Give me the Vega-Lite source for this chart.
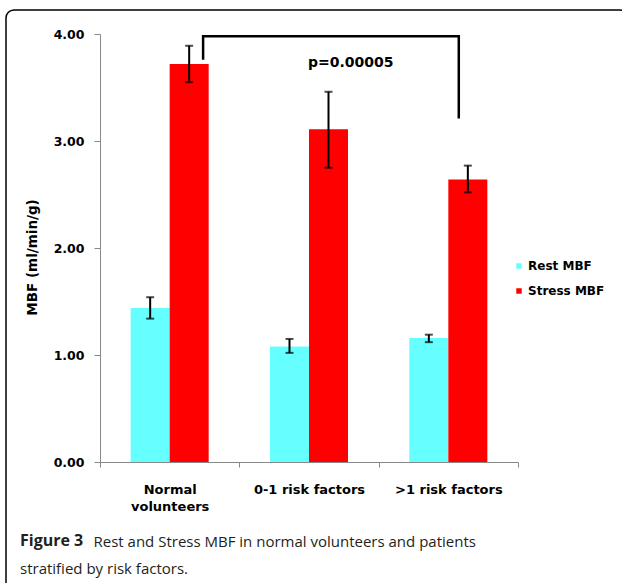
{
  "$schema": "https://vega.github.io/schema/vega-lite/v6.json",
  "width": 622,
  "height": 582,
  "autosize": "none",
  "padding": {"left": 6, "top": 10, "right": -6, "bottom": -9},
  "background": "white",
  "config": {
    "view": {"stroke": "#000", "strokeWidth": 1.5, "cornerRadius": 8},
    "font": "DejaVu Sans"
  },
  "title": {
    "text": "Figure 3",
    "subtitle": "stratified by risk factors.",
    "orient": "bottom",
    "anchor": "start",
    "frame": "group",
    "dx": 14,
    "dy": -59,
    "offset": 0,
    "font": "Open Sans",
    "fontSize": 16,
    "fontWeight": "bold",
    "color": "#231F20",
    "subtitleFont": "Open Sans",
    "subtitleFontSize": 15,
    "subtitleFontWeight": "normal",
    "subtitleColor": "#231F20",
    "subtitlePadding": 13
  },
  "datasets": {
    "bars": [
      {"group": "Normal volunteers", "type": "Rest MBF", "value": 1.44, "lo": 1.34, "hi": 1.54},
      {"group": "Normal volunteers", "type": "Stress MBF", "value": 3.72, "lo": 3.55, "hi": 3.89},
      {"group": "0-1 risk factors", "type": "Rest MBF", "value": 1.08, "lo": 1.02, "hi": 1.15},
      {"group": "0-1 risk factors", "type": "Stress MBF", "value": 3.11, "lo": 2.75, "hi": 3.46},
      {"group": ">1 risk factors", "type": "Rest MBF", "value": 1.16, "lo": 1.12, "hi": 1.19},
      {"group": ">1 risk factors", "type": "Stress MBF", "value": 2.64, "lo": 2.52, "hi": 2.77}
    ],
    "bracket": [
      {"step": 1, "bx": 0.74, "by": 3.76},
      {"step": 2, "bx": 0.74, "by": 3.98},
      {"step": 3, "bx": 2.575, "by": 3.98},
      {"step": 4, "bx": 2.575, "by": 3.21}
    ],
    "pvalue": [
      {"label": "p=0.00005", "bx": 1.8, "by": 3.73}
    ]
  },
  "resolve": {"scale": {"x": "independent"}, "axis": {"x": "independent"}},
  "layer": [
    {
      "data": {"name": "bars"},
      "layer": [
        {
          "mark": {"type": "bar"},
          "encoding": {
            "x": {
              "field": "group",
              "type": "nominal",
              "sort": null,
              "scale": {"domain": ["Normal volunteers", "0-1 risk factors", ">1 risk factors"], "range": [94, 512], "paddingInner": 0, "paddingOuter": 0},
              "axis": {
                "title": "Rest and Stress MBF in normal volunteers and patients",
                "titleX": 87,
                "titleY": 84,
                "titleAlign": "left",
                "titleAnchor": "start",
                "titleBaseline": "alphabetic",
                "titleFont": "Open Sans",
                "titleFontSize": 15,
                "titleFontWeight": "normal",
                "titleColor": "#231F20",
                "offset": -130,
                "labelAngle": 0,
                "labelFont": "DejaVu Sans",
                "labelFontSize": 13,
                "labelFontWeight": "bold",
                "labelColor": "#000",
                "labelPadding": 16,
                "labelLineHeight": 17,
                "labelBaseline": "top",
                "labelExpr": "datum.value == 'Normal volunteers' ? ['Normal', 'volunteers'] : datum.value",
                "tickBand": "extent",
                "tickSize": 5,
                "tickColor": "#888",
                "domainColor": "#888"
              }
            },
            "xOffset": {
              "field": "type",
              "type": "nominal",
              "scale": {"domain": ["Rest MBF", "Stress MBF"], "paddingInner": 0, "paddingOuter": 0.786}
            },
            "y": {
              "field": "value",
              "type": "quantitative",
              "scale": {"domain": [0, 4], "range": [452, 24], "nice": false, "zero": true},
              "axis": {
                "title": "MBF (ml/min/g)",
                "offset": -94,
                "values": [0, 1, 2, 3, 4],
                "format": ".2f",
                "grid": false,
                "tickSize": 6,
                "labelPadding": 10,
                "labelFont": "DejaVu Sans",
                "labelFontSize": 12.5,
                "labelFontWeight": "bold",
                "labelColor": "#000",
                "titleFont": "DejaVu Sans",
                "titleFontSize": 13.5,
                "titleFontWeight": "bold",
                "titleColor": "#000",
                "titleX": -68,
                "titleY": 247,
                "titleAngle": 270,
                "titleAlign": "center",
                "titleBaseline": "middle",
                "domainColor": "#888",
                "tickColor": "#888"
              }
            },
            "color": {
              "field": "type",
              "type": "nominal",
              "scale": {"domain": ["Rest MBF", "Stress MBF"], "range": ["#66FFFF", "#FF0000"]},
              "legend": {
                "orient": "none",
                "legendX": 507,
                "legendY": 250,
                "title": null,
                "symbolType": "square",
                "symbolSize": 30,
                "symbolStrokeWidth": 0,
                "labelFont": "DejaVu Sans",
                "labelFontSize": 12,
                "labelFontWeight": "bold",
                "labelColor": "#000",
                "rowPadding": 13,
                "labelOffset": 3
              }
            }
          }
        },
        {
          "mark": {"type": "rule", "color": "#000", "strokeWidth": 2},
          "encoding": {
            "x": {"field": "group", "type": "nominal", "sort": null},
            "xOffset": {"field": "type", "type": "nominal"},
            "y": {"field": "lo", "type": "quantitative", "title": "MBF (ml/min/g)"},
            "y2": {"field": "hi"}
          }
        },
        {
          "mark": {"type": "tick", "color": "#000", "thickness": 2, "size": 8},
          "encoding": {
            "x": {"field": "group", "type": "nominal", "sort": null},
            "xOffset": {"field": "type", "type": "nominal"},
            "y": {"field": "lo", "type": "quantitative", "title": "MBF (ml/min/g)"}
          }
        },
        {
          "mark": {"type": "tick", "color": "#000", "thickness": 2, "size": 8},
          "encoding": {
            "x": {"field": "group", "type": "nominal", "sort": null},
            "xOffset": {"field": "type", "type": "nominal"},
            "y": {"field": "hi", "type": "quantitative", "title": "MBF (ml/min/g)"}
          }
        }
      ]
    },
    {
      "layer": [
        {
          "data": {"name": "bracket"},
          "mark": {"type": "line", "color": "#000", "strokeWidth": 2.5, "strokeJoin": "miter"},
          "encoding": {
            "x": {"field": "bx", "type": "quantitative", "scale": {"domain": [0, 3], "range": [94, 512], "nice": false, "zero": false}, "axis": null},
            "y": {"field": "by", "type": "quantitative", "title": "MBF (ml/min/g)"},
            "order": {"field": "step", "type": "quantitative"}
          }
        },
        {
          "data": {"name": "pvalue"},
          "mark": {"type": "text", "font": "DejaVu Sans", "fontSize": 14, "fontWeight": "bold", "color": "#000"},
          "encoding": {
            "x": {"field": "bx", "type": "quantitative"},
            "y": {"field": "by", "type": "quantitative", "title": "MBF (ml/min/g)"},
            "text": {"field": "label", "type": "nominal"}
          }
        }
      ]
    }
  ]
}
